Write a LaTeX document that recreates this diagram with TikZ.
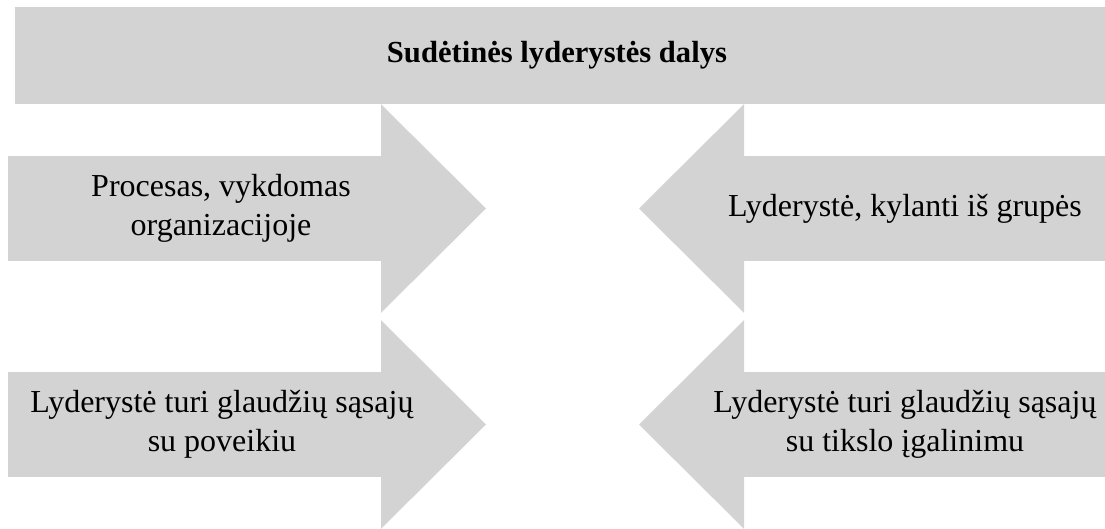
\documentclass[tikz,border=0pt]{standalone}
\usepackage{fontspec}
\setmainfont{Liberation Serif}
\usepackage{tikz}

\definecolor{barfill}{RGB}{211,211,211}

\tikzset{
  partlabel/.style={align=center, inner sep=0pt, font=\fontsize{16}{19.5}\selectfont},
  titlelabel/.style={partlabel, font=\fontsize{15.3}{19.5}\selectfont\bfseries}
}

\begin{document}
\begin{tikzpicture}[x=0.5pt, y=-0.5pt]
\useasboundingbox (0,0) rectangle (1105,529);
% Arrow geometry (pixel units): body half-height, head half-height
\def\bh{52.3}
\def\hh{104.3}

% Title bar
\fill[barfill] (15,7) rectangle (1105,104);
\node[titlelabel] (title) at (557,55.5) {Sudėtinės lyderystės dalys};

% Arrows pointing right (left column)
\foreach \c in {208.5,424.5} {
  \fill[barfill] (8,{\c-\bh}) -- (381,{\c-\bh}) -- (381,{\c-\hh}) -- (486,\c)
    -- (381,{\c+\hh}) -- (381,{\c+\bh}) -- (8,{\c+\bh}) -- cycle;
}

% Arrows pointing left (right column)
\foreach \c in {208.5,424.5} {
  \fill[barfill] (1105,{\c-\bh}) -- (744,{\c-\bh}) -- (744,{\c-\hh}) -- (639,\c)
    -- (744,{\c+\hh}) -- (744,{\c+\bh}) -- (1105,{\c+\bh}) -- cycle;
}

% Labels
\node[partlabel] (process) at (221,208.5) {Procesas, vykdomas\\organizacijoje};
\node[partlabel] (group) at (905,208.5) {Lyderystė, kylanti iš grupės};
\node[partlabel] (impact) at (222,424.5) {Lyderystė turi glaudžių sąsajų\\su poveikiu};
\node[partlabel] (goal) at (905,424.5) {Lyderystė turi glaudžių sąsajų\\su tikslo įgalinimu};
\end{tikzpicture}
\end{document}
